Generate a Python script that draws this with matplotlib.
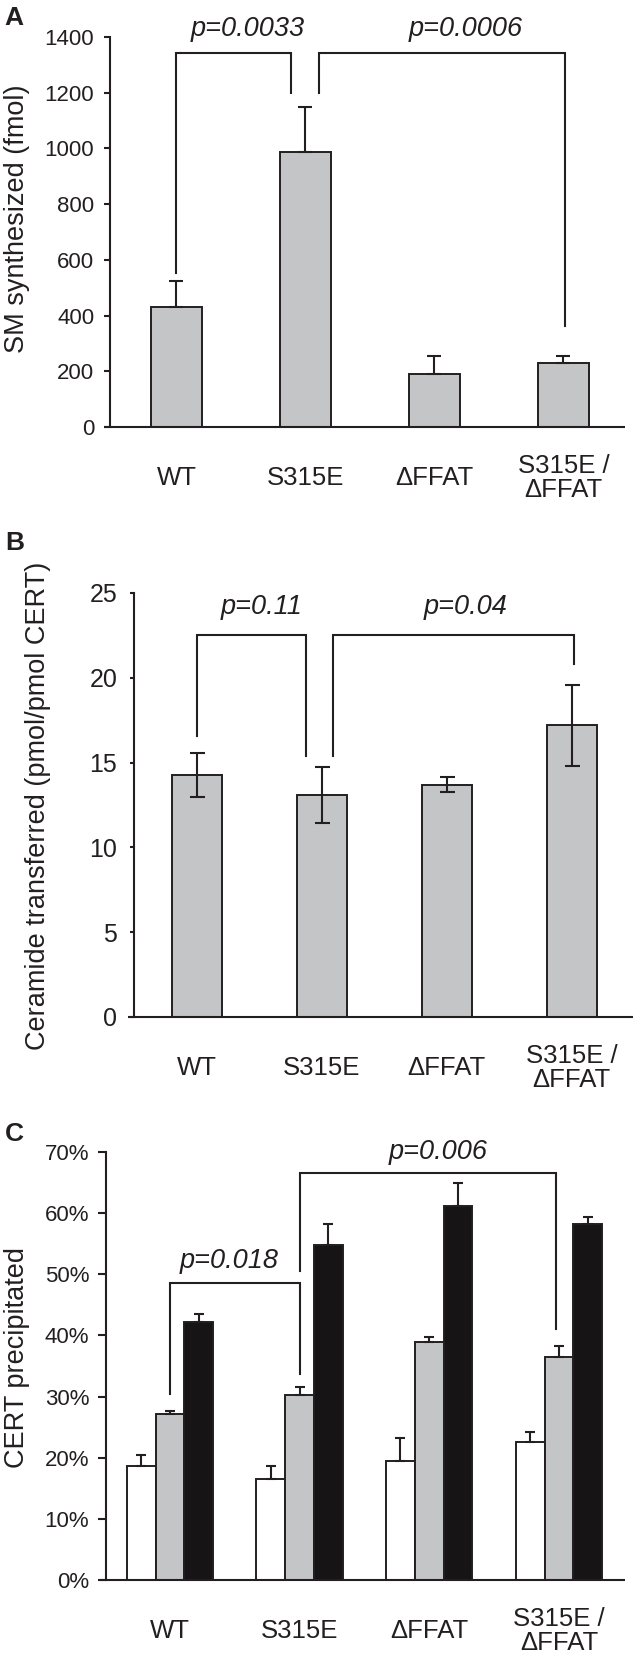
import matplotlib
matplotlib.use('Agg')
import matplotlib.pyplot as plt
import numpy as np

plt.rcParams['font.family'] = ['Liberation Sans', 'DejaVu Sans']

INK = '#231f20'
GRAY = '#c4c5c7'
BLACK = '#161415'

categories = ['WT', 'S315E', 'ΔFFAT', 'S315E /\nΔFFAT']

# ---- Panel A: SM synthesized (fmol) ----
a_values = [430, 987, 190, 231]
a_err_up = [94, 160, 65, 24]
a_yticks = [0, 200, 400, 600, 800, 1000, 1200, 1400]
# (x_left, x_right, y_top, y_left_end, y_right_end, label, text_x, text_y)
a_brackets = [
    (0.0, 0.89, 1342, 554, 1199, 'p=0.0033', 0.55, 1428),
    (1.107, 3.01, 1342, 1199, 364, 'p=0.0006', 2.24, 1428),
]

# ---- Panel B: Ceramide transferred ----
b_values = [14.27, 13.1, 13.69, 17.2]
b_err = [1.3, 1.65, 0.44, 2.4]
b_yticks = [0, 5, 10, 15, 20, 25]
b_brackets = [
    (0.0, 0.87, 22.55, 16.57, 15.4, 'p=0.11', 0.52, 24.2),
    (1.09, 3.02, 22.55, 15.4, 20.8, 'p=0.04', 2.15, 24.2),
]

# ---- Panel C: CERT precipitated (%) ----
c_white = [18.6, 16.5, 19.4, 22.5]
c_white_err = [1.9, 2.1, 3.8, 1.7]
c_gray = [27.1, 30.2, 39.0, 36.5]
c_gray_err = [0.6, 1.4, 0.7, 1.7]
c_black = [42.2, 54.8, 61.2, 58.3]
c_black_err = [1.3, 3.5, 3.7, 1.0]
c_yticks = [0, 10, 20, 30, 40, 50, 60, 70]
c_brackets = [
    (0.0, 1.0, 48.5, 30.5, 33.7, 'p=0.018', 0.46, 52.1),
    (1.0, 2.98, 66.6, 50.6, 41.1, 'p=0.006', 2.07, 70.0),
]

W, H = 633, 1654
fig = plt.figure(figsize=(W / 100, H / 100), dpi=100)


def rect(left, top, right, bottom):
    return [left / W, 1 - bottom / H, (right - left) / W, (bottom - top) / H]


LW = 1.5


def style_axes(ax, tick_fs, xlab_fs, tick_pad, tick_len):
    for s in ['top', 'right', 'bottom']:
        ax.spines[s].set_visible(False)
    ax.spines['left'].set_linewidth(LW)
    ax.spines['left'].set_color(INK)
    # x-axis baseline extending slightly past the y axis (tick length)
    ax.plot([-0.012, 1], [0, 0], transform=ax.get_yaxis_transform(),
            color=INK, lw=LW, clip_on=False, zorder=5, solid_capstyle='butt')
    ax.tick_params(axis='y', direction='out', length=tick_len, width=LW,
                   colors=INK, labelsize=tick_fs, pad=tick_pad)
    ax.tick_params(axis='x', length=0, labelsize=xlab_fs, colors=INK, pad=36.5)
    for lbl in ax.get_xticklabels():
        lbl.set_va('center')
        lbl.set_linespacing(1.0)


def draw_brackets(ax, brackets, fs):
    for x0, x1, yt, yl, yr, lab, tx, ty in brackets:
        ax.plot([x0, x0, x1, x1], [yl, yt, yt, yr], color=INK, lw=LW,
                clip_on=False, zorder=4, solid_joinstyle='miter')
        ax.text(tx, ty, lab, ha='center', va='center', fontsize=fs,
                style='italic', color=INK, clip_on=False)


x = np.arange(len(categories))

# ---------------- Panel A ----------------
axA = fig.add_axes(rect(110, 37, 625, 427))
axA.bar(x, a_values, width=0.395, color=GRAY, edgecolor=INK, linewidth=1.4, zorder=2)
axA.errorbar(x, a_values, yerr=[np.zeros(4), a_err_up], fmt='none', ecolor=INK,
             elinewidth=LW, capsize=4.7, capthick=LW, zorder=3)
axA.set_xlim(-0.515, 3.477)
axA.set_ylim(0, 1400)
axA.set_yticks(a_yticks)
axA.set_yticklabels([str(v) for v in a_yticks])
axA.set_xticks(x)
axA.set_xticklabels(categories)
style_axes(axA, 16, 18.5, 7, 4.3)
draw_brackets(axA, a_brackets, 19.5)

# ---------------- Panel B ----------------
axB = fig.add_axes(rect(134, 593, 633, 1017))
axB.bar(x, b_values, width=0.40, color=GRAY, edgecolor=INK, linewidth=1.4, zorder=2)
axB.errorbar(x, b_values, yerr=b_err, fmt='none', ecolor=INK,
             elinewidth=LW, capsize=5.4, capthick=LW, zorder=3)
axB.set_xlim(-0.504, 3.49)
axB.set_ylim(0, 25)
axB.set_yticks(b_yticks)
axB.set_yticklabels([str(v) for v in b_yticks])
axB.set_xticks(x)
axB.set_xticklabels(categories)
style_axes(axB, 18, 18.5, 9, 3)
draw_brackets(axB, b_brackets, 19.5)

# ---------------- Panel C ----------------
axC = fig.add_axes(rect(106, 1152, 625, 1580))
bw = 0.222
series = [(c_white, c_white_err, 'white', -bw),
          (c_gray, c_gray_err, GRAY, 0.0),
          (c_black, c_black_err, BLACK, bw)]
for vals, errs, col, off in series:
    axC.bar(x + off, vals, width=bw, color=col, edgecolor=INK, linewidth=1.4, zorder=2)
    axC.errorbar(x + off, vals, yerr=[np.zeros(4), errs], fmt='none', ecolor=INK,
                 elinewidth=LW, capsize=3.6, capthick=LW, zorder=3)
axC.set_xlim(-0.494, 3.51)
axC.set_ylim(0, 70)
axC.set_yticks(c_yticks)
axC.set_yticklabels([f'{v}%' for v in c_yticks])
axC.set_xticks(x)
axC.set_xticklabels(categories)
style_axes(axC, 16, 18.5, 6, 6)
draw_brackets(axC, c_brackets, 19.5)

# ---------------- Labels ----------------
def fig_text(px, py, s, **kw):
    fig.text(px / W, 1 - py / H, s, color=INK, **kw)

fig_text(4, 18, 'A', fontsize=19, fontweight='bold', ha='left', va='center')
fig_text(5, 543, 'B', fontsize=19, fontweight='bold', ha='left', va='center')
fig_text(5, 1134, 'C', fontsize=19, fontweight='bold', ha='left', va='center')

fig_text(17, 219, 'SM synthesized (fmol)', fontsize=19.5, rotation=90, ha='center', va='center')
fig_text(38, 806, 'Ceramide transferred (pmol/pmol CERT)', fontsize=19.5, rotation=90, ha='center', va='center')
fig_text(17, 1357, 'CERT precipitated', fontsize=19.5, rotation=90, ha='center', va='center')

fig.savefig('out.png', dpi=100)
